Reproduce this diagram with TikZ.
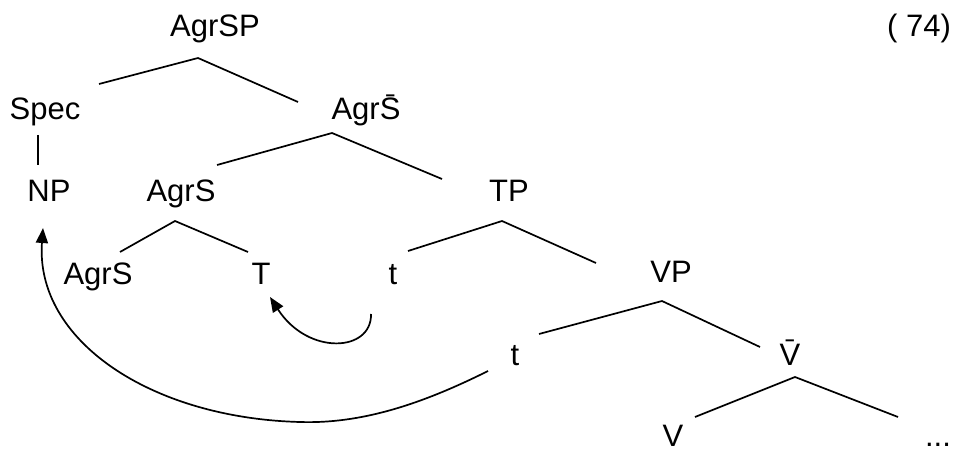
\documentclass[tikz,border=0pt]{standalone}
\usepackage{fontspec}
\setmainfont{Liberation Sans}
\usetikzlibrary{arrows.meta}
\begin{document}
\begin{tikzpicture}[x=1pt,y=-1pt,
  lbl/.style={anchor=base,inner sep=0pt,font=\fontsize{31}{37}\selectfont},
  branch/.style={line width=1.7pt,line join=miter},
  move/.style={line width=1.7pt,-{Triangle[length=15pt,width=12pt]}}]
\useasboundingbox (0,0) rectangle (954,449);
% labels
\node[lbl] (agrsp) at (215,37) {AgrSP};
\node[lbl] (num) at (919,37) {( 74)};
\node[lbl] (spec) at (45,120) {Spec};
\node[lbl] (agrsbar) at (366,120) {Agr\={S}};
\node[lbl] (np) at (49,202) {NP};
\node[lbl] (agrs) at (181,202) {AgrS};
\node[lbl] (tp) at (509,202) {TP};
\node[lbl] (agrslow) at (98,285) {AgrS};
\node[lbl] (T) at (261,285) {T};
\node[lbl] (t1) at (393,285) {t};
\node[lbl] (vp) at (671,283) {VP};
\node[lbl] (t2) at (515,366) {t};
\node[lbl] (vbar) at (790,365) {\={V}};
\node[lbl,text depth=0pt] (v) at (673,446) {V};
\node[lbl,text depth=0pt] (dots) at (938,446) {...};
% branch points
\coordinate (a1) at (99,84);   \coordinate (a0) at (198,58);  \coordinate (a2) at (298,102);
\coordinate (s1) at (38,135);  \coordinate (s2) at (38,165);
\coordinate (b1) at (217,165); \coordinate (b0) at (332,133); \coordinate (b2) at (442,179);
\coordinate (c1) at (120,252); \coordinate (c0) at (175,221); \coordinate (c2) at (248,252);
\coordinate (d1) at (408,251); \coordinate (d0) at (502,221); \coordinate (d2) at (596,263);
\coordinate (e1) at (539,334); \coordinate (e0) at (662,301); \coordinate (e2) at (760,347);
\coordinate (f1) at (695,417); \coordinate (f0) at (795,377); \coordinate (f2) at (898,417);
\draw[branch] (a1) -- (a0) -- (a2);
\draw[branch] (s1) -- (s2);
\draw[branch] (b1) -- (b0) -- (b2);
\draw[branch] (c1) -- (c0) -- (c2);
\draw[branch] (d1) -- (d0) -- (d2);
\draw[branch] (e1) -- (e0) -- (e2);
\draw[branch] (f1) -- (f0) -- (f2);
% movement arrows
\coordinate (m1s) at (371,314); \coordinate (m1e) at (270,297);
\draw[move] (m1s) .. controls (372,352) and (308,356) .. (m1e);
\coordinate (m2s) at (488,371); \coordinate (m2m) at (300,422); \coordinate (m2e) at (43,228);
\draw[move] (m2s) .. controls (420,405) and (360,424) .. (m2m)
  .. controls (150,418) and (35,340) .. (m2e);
\end{tikzpicture}
\end{document}
